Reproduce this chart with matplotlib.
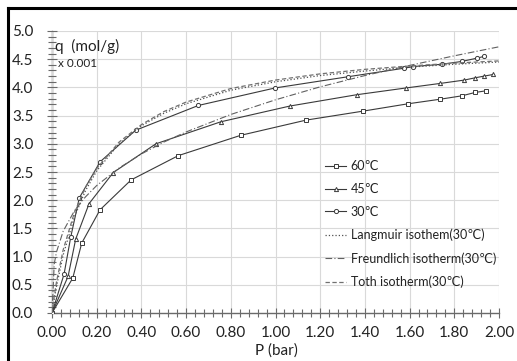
import numpy as np
import matplotlib
matplotlib.use("Agg")
import matplotlib.pyplot as plt
from matplotlib.ticker import MultipleLocator, FormatStrFormatter
from matplotlib.lines import Line2D

plt.rcParams['font.family'] = ['Lato', 'DejaVu Sans']

# measured data (P in bar, q in mol/g x 0.001)
p_60 = [0.0, 0.093, 0.133, 0.215, 0.354, 0.565, 0.844, 1.137, 1.393, 1.594, 1.736, 1.833, 1.893, 1.942]
q_60 = [0.0, 0.62, 1.24, 1.83, 2.36, 2.79, 3.15, 3.42, 3.58, 3.71, 3.79, 3.85, 3.91, 3.94]

p_45 = [0.0, 0.072, 0.106, 0.166, 0.274, 0.465, 0.755, 1.065, 1.363, 1.584, 1.736, 1.845, 1.893, 1.933, 1.975]
q_45 = [0.0, 0.65, 1.31, 1.94, 2.49, 3.00, 3.39, 3.67, 3.87, 3.99, 4.07, 4.13, 4.17, 4.20, 4.23]

p_30 = [0.0, 0.054, 0.084, 0.122, 0.215, 0.374, 0.655, 0.998, 1.326, 1.575, 1.617, 1.744, 1.833, 1.903, 1.933]
q_30 = [0.0, 0.69, 1.35, 2.04, 2.68, 3.24, 3.68, 3.99, 4.19, 4.34, 4.37, 4.41, 4.46, 4.52, 4.55]

# model curves for 30C
p_model = [0.0, 0.01, 0.02, 0.05, 0.1, 0.15, 0.2, 0.3, 0.4, 0.5, 0.6, 0.8, 1.0, 1.2, 1.4, 1.6, 1.8, 2.0]
q_langmuir = [0.0, 0.25, 0.47, 1.03, 1.70, 2.17, 2.52, 3.00, 3.32, 3.54, 3.71, 3.95, 4.10, 4.21, 4.29, 4.36, 4.41, 4.45]
q_freundlich = [0.0, 0.87, 1.08, 1.45, 1.81, 2.06, 2.26, 2.57, 2.82, 3.03, 3.21, 3.52, 3.78, 4.01, 4.21, 4.39, 4.56, 4.72]
q_toth = [0.0, 0.30, 0.55, 1.12, 1.78, 2.23, 2.56, 3.03, 3.34, 3.57, 3.74, 3.98, 4.13, 4.24, 4.32, 4.38, 4.43, 4.47]

line_col = '#3a3a3a'
W, H = 517, 361

fig = plt.figure(figsize=(W / 100, H / 100), dpi=100)
ax = fig.add_axes([52 / W, 1 - 313 / H, (499 - 52) / W, (313 - 31) / H])

mk = dict(markersize=3.0, markerfacecolor='white', markeredgecolor=line_col, markeredgewidth=0.7)
ax.plot(p_60, q_60, '-', marker='s', color=line_col, lw=0.8, label='60\u2103', **mk)
ax.plot(p_45, q_45, '-', marker='^', color=line_col, lw=0.8, label='45\u2103', **mk)
ax.plot(p_30, q_30, '-', marker='o', color=line_col, lw=0.8, label='30\u2103', **mk)
ax.plot(p_model, q_langmuir, ':', color='#505050', lw=0.9, label='Langmuir isothem(30\u2103)')
ax.plot(p_model, q_freundlich, '-.', color='#606060', lw=0.8, dashes=(6, 2, 1, 2), label='Freundlich isotherm(30\u2103)')
ax.plot(p_model, q_toth, '--', color='#707070', lw=0.9, dashes=(3.5, 2), label='Toth isotherm(30\u2103)')

ax.set_xlim(0, 2.0)
ax.set_ylim(0, 5.0)
ax.xaxis.set_major_locator(MultipleLocator(0.2))
ax.xaxis.set_minor_locator(MultipleLocator(0.04))
ax.yaxis.set_major_locator(MultipleLocator(0.5))
ax.yaxis.set_minor_locator(MultipleLocator(0.1))
ax.xaxis.set_major_formatter(FormatStrFormatter('%.2f'))
ax.yaxis.set_major_formatter(FormatStrFormatter('%.1f'))

ax.grid(True, which='major', color='#d9d9d9', lw=0.8)
ax.set_axisbelow(True)
for s in ['top', 'right']:
    ax.spines[s].set_visible(False)
for s in ['left', 'bottom']:
    ax.spines[s].set_color('#6a6a6a')
    ax.spines[s].set_linewidth(1.0)
    ax.spines[s].set_zorder(0.5)

ax.tick_params(which='both', direction='inout', color='#6a6a6a', width=0.8)
ax.tick_params(which='major', length=7, labelsize=11, colors='#6a6a6a', labelcolor='#222222')
ax.tick_params(which='minor', length=6)
ax.tick_params(axis='y', which='major', pad=10)
ax.tick_params(axis='x', which='major', pad=6)

fig.text(276 / W, 1 - 351 / H, 'P (bar)', ha='center', va='center', fontsize=11, color='#222222')
ax.text(0.013, 4.72, 'q  (mol/g)', ha='left', va='center', fontsize=11, color='#222222')
ax.text(0.025, 4.43, 'x 0.001', ha='left', va='center', fontsize=8.5, color='#222222')

leg = ax.legend(loc='upper left', bbox_to_anchor=(273 / (499 - 52), 1 - (160 - 31) / (313 - 31)),
                frameon=False, fontsize=9, handlelength=1.7, handletextpad=0.35,
                labelspacing=0.87, borderaxespad=0, borderpad=0)
for t in leg.get_texts():
    t.set_color('#222222')

# black frame around the chart (cropped on right and bottom)
fig.add_artist(Line2D([8 / W, 1], [1 - 8 / H, 1 - 8 / H], color='black', lw=2.2, transform=fig.transFigure))
fig.add_artist(Line2D([8 / W, 8 / W], [0, 1 - 8 / H], color='black', lw=2.2, transform=fig.transFigure))

fig.savefig('out.png', dpi=100)
